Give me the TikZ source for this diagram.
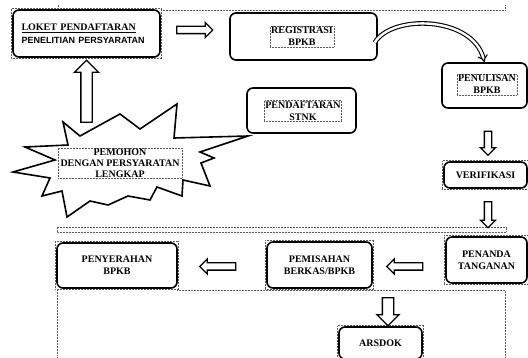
\documentclass[tikz,border=0pt]{standalone}
\usepackage{fontspec}
\setmainfont{Liberation Serif}
\setsansfont{Liberation Sans}
\usetikzlibrary{shapes.arrows, arrows.meta, fit, calc}

\begin{document}
\begin{tikzpicture}[
    x=1pt, y=-1pt,
    font=\fontsize{10}{12}\selectfont\bfseries,
    % --- gaya ---
    box/.style={
            draw,
            line width=1.6pt,
            rounded corners=6pt,
            align=center,
            inner sep=0pt
        },
    txtframe/.style={
            draw=gray!70!black,
            densely dotted,
            line width=0.5pt,
            inner sep=1pt,
            align=center
        },
    frame/.style={
            draw=gray!70!black,
            densely dotted,
            line width=0.5pt,
            inner sep=0.8pt
        },
    guide/.style={
            draw=gray!70!black,
            densely dotted,
            line width=0.5pt
        },
    blok/.style={
            single arrow,
            draw,
            fill=white,
            line width=1.3pt,
            inner sep=0pt,
            text depth=0pt,
            text height=6pt,
            text width=6pt,
            minimum width=14pt,
            single arrow head extend=4pt
        },
    bigblok/.style={
            blok,
            text height=10pt,
            text width=10pt,
            minimum width=23pt,
            single arrow head extend=6.5pt
        },
    curvy/.style={
            double,
            double distance=2.4pt,
            line width=1.1pt,
            -{Implies[length=5pt, width=10pt]}
        }
    ]
    \useasboundingbox (0,0) rectangle (528,358);

    % --- garis bantu (putus-putus) ---
    \draw[guide] (161,10) -- (505,10) -- (505,5);
    \draw[guide] (58,10) -- (58,5);
    \draw[guide] (57,227) rectangle (506,232);
    \draw[guide] (177,290) -- (505,290) -- (505,358);
    \draw[guide] (57,289) -- (57,358);

    % --- BARIS ATAS ---
    \node[box, text width=130pt, align=left, inner xsep=8.5pt, minimum height=47pt] (loket) at (86.5,33.5)
        {\underline{LOKET PENDAFTARAN}\\[1pt]{\sffamily\fontsize{9}{11}\selectfont PENELITIAN PERSYARATAN}};
    \node[frame, fit=(loket)] (loketFr) {};

    \node[box, minimum width=147pt, minimum height=47pt] (registrasi) at (303.5,36.5) {};
    \node[txtframe] (registrasiTxt) at (302,36.5) {REGISTRASI\\BPKB};

    \node[box, minimum width=85pt, minimum height=45pt] (penulisan) at (484.5,85.5) {};
    \node[txtframe] (penulisanTxt) at (487,84.5) {PENULISAN\\BPKB};

    \node[box, minimum width=109pt, minimum height=45pt] (stnk) at (301.5,110.5) {};
    \node[txtframe] (stnkTxt) at (303,111) {PENDAFTARAN\\STNK};

    % --- PEMOHON (bintang) ---
    \draw[line width=1.6pt, fill=white] (63,122) -- (80,136) -- (120,114) -- (140,129)
        -- (177,104) -- (174,138) -- (248,136) -- (200,152) -- (214,158) -- (201,163)
        -- (210,186) -- (183,180) -- (182,196) -- (157,187) -- (150,200) -- (128,196)
        -- (108,205) -- (90,201) -- (67,217) -- (62,191) -- (42,196) -- (50,178)
        -- (13,172) -- (55,160) -- (25,147) -- (68,145) -- cycle;
    \node[txtframe, minimum width=124pt, inner sep=0.5pt, font=\fontsize{10}{11}\selectfont\bfseries] (pemohon) at (120,163)
        {PEMOHON\\DENGAN PERSYARATAN\\LENGKAP};

    % --- KANAN ---
    \node[box, minimum width=83pt, minimum height=26pt] (verifikasi) at (485.5,175) {VERIFIKASI};
    \node[frame, fit=(verifikasi)] (verifikasiFr) {};

    % --- BARIS BAWAH ---
    \node[box, minimum width=81pt, minimum height=46pt] (penanda) at (486.5,260) {PENANDA\\TANGANAN};
    \node[frame, fit=(penanda)] (penandaFr) {};

    \node[box, minimum width=105pt, minimum height=46pt] (pemisahan) at (319.5,265) {PEMISAHAN\\BERKAS/BPKB};
    \node[frame, fit=(pemisahan)] (pemisahanFr) {};

    \node[box, minimum width=120pt, minimum height=45pt] (penyerahan) at (117,265.5) {PENYERAHAN\\BPKB};
    \node[frame, fit=(penyerahan)] (penyerahanFr) {};

    \node[box, minimum width=83pt, minimum height=32pt] (arsdok) at (380.5,343) {ARSDOK};
    \node[frame, fit=(arsdok)] (arsdokFr) {};

    % --- PANAH BLOK ---
    \node[blok, minimum height=36pt] (p1) at (193,30) {};
    \node[bigblok, minimum height=62pt, shape border rotate=90] (p0) at (86.5,94) {};
    \node[blok, minimum height=24pt, shape border rotate=270] (p3) at (488,141.5) {};
    \node[blok, minimum height=26pt, shape border rotate=270] (p4) at (488,213) {};
    \node[blok, minimum height=36pt, shape border rotate=180] (p5) at (406.5,266.5) {};
    \node[blok, minimum height=36pt, shape border rotate=180] (p6) at (219.5,266.5) {};
    \node[blok, text height=10pt, text width=10pt, minimum width=21pt, single arrow head extend=5.5pt,
        minimum height=28pt, shape border rotate=270] (p7) at (388,309) {};

    % --- panah lengkung ---
    \draw[curvy] ($(registrasi.east)+(-3,6)$) .. controls (392,14) and (472,16) .. (penulisan.north);

\end{tikzpicture}
\end{document}
